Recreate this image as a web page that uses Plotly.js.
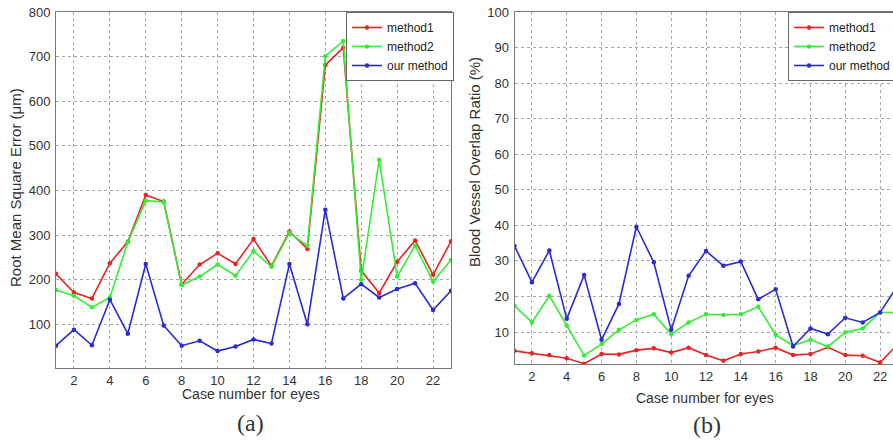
<!DOCTYPE html>
<html>
<head>
<meta charset="utf-8">
<script src="https://cdn.plot.ly/plotly-3.0.1.min.js"></script>
<style>html,body{margin:0;padding:0;background:#fff;}#chart{width:893px;height:441px;}</style>
</head>
<body>
<div id="chart"></div>
<script>
// ---- data ----
const cases = [1,2,3,4,5,6,7,8,9,10,11,12,13,14,15,16,17,18,19,20,21,22,23];
const seriesNames = ["method1", "method2", "our method"];

// (a) Root Mean Square Error (µm)
const rmseMethod1 = [213,171,158,237,285,390,375,189,234,259,235,291,231,308,269,681,720,220,170,240,288,211,286];
const rmseMethod2 = [177,164,138,160,284,377,374,188,207,234,209,264,229,305,276,701,735,199,469,207,276,196,244];
const rmseOurs    = [52,88,53,155,79,235,97,52,63,40,50,66,57,235,100,357,158,190,160,179,192,132,175];

// (b) Blood Vessel Overlap Ratio (%)
const ovrMethod1 = [4.7,4.0,3.5,2.6,1.1,3.8,3.7,4.9,5.4,4.2,5.6,3.5,1.9,3.8,4.5,5.6,3.5,3.8,5.7,3.5,3.3,1.4,6.5];
const ovrMethod2 = [17.4,12.7,20.2,11.8,3.4,6.6,10.6,13.4,15.0,9.4,12.7,15.0,14.8,15.0,17.1,9.2,6.2,7.8,5.9,9.9,11.0,15.5,15.5];
const ovrOurs    = [34.2,24.0,32.9,13.7,26.0,7.8,17.9,39.6,29.6,10.6,25.8,32.8,28.6,29.8,19.2,22.0,5.9,11.0,9.4,14.0,12.7,15.5,23.0];

const xTicks = [2,4,6,8,10,12,14,16,18,20,22];
const yTicksA = [100,200,300,400,500,600,700,800];
const yTicksB = [10,20,30,40,50,60,70,80,90,100];

// ---- styles ----
const colors = ["#ee2222", "#33ee33", "#2a2ad8"];
const W = 893, H = 441;
const px = v => v / W, py = v => (H - v) / H;

function mk(x, y, i, xa, ya, lg) {
  return {
    x: x, y: y, name: seriesNames[i], type: "scatter", mode: "lines+markers",
    line: {color: colors[i], width: 1.6},
    marker: {color: colors[i], size: 4.5, symbol: "circle"},
    xaxis: xa, yaxis: ya, legend: lg
  };
}

const traces = [
  mk(cases, rmseMethod1, 0, "x", "y", "legend"),
  mk(cases, rmseMethod2, 1, "x", "y", "legend"),
  mk(cases, rmseOurs, 2, "x", "y", "legend"),
  mk(cases, ovrMethod1, 0, "x2", "y2", "legend2"),
  mk(cases, ovrMethod2, 1, "x2", "y2", "legend2"),
  mk(cases, ovrOurs, 2, "x2", "y2", "legend2")
];

const tickFont = {family: "Liberation Sans, Arial, sans-serif", size: 13, color: "#333"};
const axCommon = {
  showline: true, linecolor: "#777", linewidth: 1,
  showgrid: true, gridcolor: "#a8a8a8", griddash: "dot", gridwidth: 1,
  zeroline: false, ticks: "", tickfont: tickFont, fixedrange: true, automargin: false
};

const sans = "Liberation Sans, Arial, sans-serif";
const serif = "Liberation Serif, Times New Roman, serif";
function ann(text, x, y, size, family, angle) {
  return {text: text, x: px(x), y: py(y), xref: "paper", yref: "paper",
    xanchor: "center", yanchor: "middle", textangle: angle || 0, showarrow: false,
    font: {family: family, size: size, color: "#333"}};
}

const layout = {
  width: W, height: H,
  margin: {l: 0, r: 0, t: 0, b: 0, autoexpand: false},
  paper_bgcolor: "#fff", plot_bgcolor: "#fff",
  showlegend: true,
  xaxis: Object.assign({}, axCommon, {
    domain: [px(56), px(451)], range: [1, 23], tickvals: xTicks, mirror: true, anchor: "y"
  }),
  yaxis: Object.assign({}, axCommon, {
    domain: [py(368), py(12)], range: [2, 800], tickvals: yTicksA, mirror: true, anchor: "x",
    ticklabelstandoff: 2
  }),
  xaxis2: Object.assign({}, axCommon, {
    domain: [px(514.5), 1], range: [1, 22.74], tickvals: xTicks, mirror: true, anchor: "y2"
  }),
  yaxis2: Object.assign({}, axCommon, {
    domain: [py(364), py(12)], range: [1, 100], tickvals: yTicksB, anchor: "x2",
    ticklabelstandoff: 2
  }),
  legend: {
    x: px(346), xanchor: "left", y: py(12), yanchor: "top",
    bgcolor: "#fff", bordercolor: "#666", borderwidth: 1,
    font: {family: sans, size: 12, color: "#222"},
    tracegroupgap: 0, itemwidth: 30
  },
  legend2: {
    x: px(788), xanchor: "left", y: py(12), yanchor: "top",
    bgcolor: "#fff", bordercolor: "#666", borderwidth: 1,
    font: {family: sans, size: 12, color: "#222"},
    tracegroupgap: 0, itemwidth: 30
  },
  annotations: [
    ann("Root Mean Square Error (μm)", 15, 188, 15, sans, -90),
    ann("Blood Vessel Overlap Ratio (%)", 475, 162, 15, sans, -90),
    ann("Case number for eyes", 251, 394, 14, sans),
    ann("Case number for eyes", 705, 398, 14, sans),
    ann("(a)", 250, 423, 24, serif),
    ann("(b)", 707, 425, 24, serif)
  ]
};

Plotly.newPlot("chart", traces, layout, {displayModeBar: false, staticPlot: true});
</script>
</body>
</html>
